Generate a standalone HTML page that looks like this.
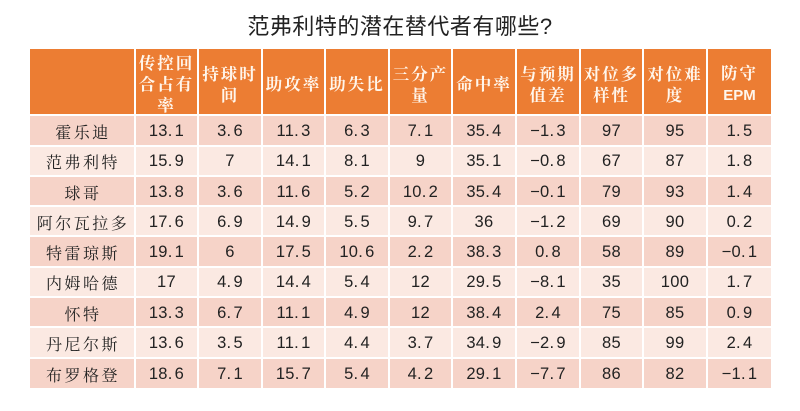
<!DOCTYPE html>
<html><head><meta charset="utf-8">
<style>
html,body{margin:0;padding:0;background:#fff;}
body{width:800px;height:411px;position:relative;overflow:hidden;}
.title{position:absolute;left:0;width:800px;top:12px;text-align:center;font-family:"Liberation Sans","Noto Sans CJK SC",sans-serif;font-size:22px;color:#222;line-height:30px;letter-spacing:0.5px;}
.c{position:absolute;box-sizing:border-box;display:flex;align-items:center;justify-content:center;text-align:center;}
.c > div{width:100%;text-align:center;}
.h{background:#EC7D33;color:#FFF6EC;font-family:"Noto Serif CJK SC","Noto Sans CJK SC",serif;font-weight:700;font-size:16.5px;line-height:21px;letter-spacing:2px;padding-top:4px;}
.h .epm{font-family:"Liberation Sans",sans-serif;font-weight:700;letter-spacing:0;font-size:15px;}
.o{background:#F6D3C8;}
.e{background:#FBE9E2;}
.n{font-family:"Noto Serif CJK SC","Noto Sans CJK SC",serif;font-size:16px;letter-spacing:2.5px;color:#222;padding-top:2px;padding-left:2px;}
.v{font-family:"Liberation Sans","Noto Sans CJK SC",sans-serif;font-size:16.5px;letter-spacing:0.3px;color:#222;padding-top:2px;}
</style></head><body>
<div class="title">范弗利特的潜在替代者有哪些?</div>
<div id="t"></div>
<script>
var xs=[30,135,198,262,325,389,452,516,580,643,707,771];
var ys=[49,115,145.5,176,206,236,266.5,297,327,357.5,388];
var heads=["","传控回<br>合占有<br>率","持球时<br>间","助攻率","助失比","三分产<br>量","命中率","与预期<br>值差","对位多<br>样性","对位难<br>度","防守<br><span class=\"epm\">EPM</span>"];
var rows=[
["霍乐迪","13.1","3.6","11.3","6.3","7.1","35.4","−1.3","97","95","1.5"],
["范弗利特","15.9","7","14.1","8.1","9","35.1","−0.8","67","87","1.8"],
["球哥","13.8","3.6","11.6","5.2","10.2","35.4","−0.1","79","93","1.4"],
["阿尔瓦拉多","17.6","6.9","14.9","5.5","9.7","36","−1.2","69","90","0.2"],
["特雷琼斯","19.1","6","17.5","10.6","2.2","38.3","0.8","58","89","−0.1"],
["内姆哈德","17","4.9","14.4","5.4","12","29.5","−8.1","35","100","1.7"],
["怀特","13.3","6.7","11.1","4.9","12","38.4","2.4","75","85","0.9"],
["丹尼尔斯","13.6","3.5","11.1","4.4","3.7","34.9","−2.9","85","99","2.4"],
["布罗格登","18.6","7.1","15.7","5.4","4.2","29.1","−7.7","86","82","−1.1"]];
var h="";
function cell(cls,x0,x1,y0,y1,txt){
  var l=x0+(x0>30?1:0), r=x1-(x1<771?1:0), t=y0+(y0>49?1:0), b=y1-(y1<388?1:0);
  return '<div class="c '+cls+'" style="left:'+l+'px;top:'+t+'px;width:'+(r-l)+'px;height:'+(b-t)+'px"><div>'+txt+'</div></div>';
}
for(var j=0;j<11;j++){h+=cell("h",xs[j],xs[j+1],ys[0],ys[1],heads[j]);}
for(var i=0;i<9;i++){
  var bg=(i%2==0)?"o":"e";
  for(var j=0;j<11;j++){
    var v=rows[i][j];
    if(j>0) v=v.replace(".",'.<span style="display:inline-block;width:2px"></span>');
    h+=cell(bg+" "+(j==0?"n":"v"),xs[j],xs[j+1],ys[i+1],ys[i+2],v);
  }
}
document.getElementById("t").innerHTML=h;
</script>
</body></html>
